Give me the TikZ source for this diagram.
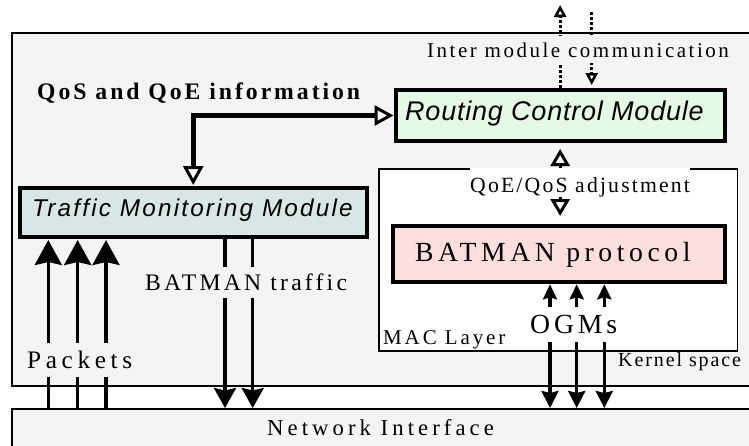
\documentclass[tikz,border=0pt]{standalone}
\usepackage{fontspec}
\setmainfont{Liberation Serif}
\newfontfamily\sansfam{Liberation Sans}
\usetikzlibrary{arrows.meta}
\definecolor{kgray}{HTML}{F4F4F4}
\definecolor{tmmcol}{HTML}{D8E6E6}
\definecolor{rcmcol}{HTML}{E4FAE4}
\definecolor{batcol}{HTML}{FDDEDE}
\newcommand\sertext[3]{\fontsize{#1}{#1}\selectfont\addfontfeature{LetterSpace=#2}#3}
\newcommand\santext[3]{\sansfam\itshape\fontsize{#1}{#1}\selectfont\addfontfeature{LetterSpace=#2}#3}
\tikzset{
  thinbox/.style={draw=black, line width=1.5pt, inner sep=0pt, anchor=north west},
  modbox/.style={draw=black, line width=4.3pt, inner sep=0pt, anchor=north west},
  txt/.style={inner sep=0pt, anchor=base west},
  oarr/.tip={Triangle[fill=white,line width=3pt,length=19pt,width=20pt]},
  marr/.tip={Triangle[fill=white,line width=3pt,length=17pt,width=19pt]},
  sarr/.tip={Triangle[fill=white,line width=2.5pt,length=12pt,width=12pt]},
  pkttip/.tip={Stealth[length=25pt,width=27pt,inset=3pt]},
  trftip/.tip={Stealth[length=20pt,width=22pt,inset=2.5pt]},
  ogup/.tip={Stealth[length=15pt,width=14pt,inset=2pt]},
  ogdn/.tip={Stealth[length=17pt,width=17pt,inset=2pt]},
  heavy/.style={line width=4.6pt},
  flow/.style={line width=3.3pt},
  dotline/.style={line width=3pt, dash pattern=on 3.3pt off 1.7pt}
}
\begin{document}
\begin{tikzpicture}[x=1pt,y=-1pt]
\useasboundingbox (0,0) rectangle (749,445);
\clip (0,0) rectangle (749,445);
% containers
\node[thinbox, fill=kgray, minimum width=760pt, minimum height=353pt] (kern) at (11,32) {};
\node[thinbox, fill=kgray, minimum width=760pt, minimum height=60pt] (net) at (11,408) {};
\node[thinbox, fill=white, minimum width=358.4pt, minimum height=181.7pt] (mac) at (378.3,168.3) {};
% modules
\node[modbox, fill=rcmcol, minimum width=329pt, minimum height=50.7pt] (rcm) at (393.5,88) {};
\node[modbox, line width=4pt, fill=tmmcol, minimum width=346.5pt, minimum height=49pt] (tmm) at (18,186) {};
\node[modbox, fill=batcol, minimum width=331.5pt, minimum height=56pt] (bat) at (391,224) {};
% coordinates for free ends and line positions
\coordinate (imup) at (558,5);
\coordinate (imdn) at (591.7,12);
\coordinate (p1) at (48.3,408);
\coordinate (p2) at (77.7,408);
\coordinate (p3) at (106,408);
\coordinate (bx1) at (225,300);
\coordinate (bx2) at (252.7,300);
\coordinate (ox1) at (550,330);
\coordinate (ox2) at (576.7,330);
\coordinate (ox3) at (604.3,330);
% connectors
\draw[heavy, oarr-oarr, shorten <=1pt] (tmm.north) |- (rcm.west);
\draw[flow, marr-marr, shorten <=6pt, shorten >=8pt] (rcm.south) -- (rcm.south |- bat.north);
\draw[dotline, -sarr] (rcm.north) -- (rcm.north |- imup);
\draw[dotline, -sarr, shorten >=3pt] (imdn) -- (imdn |- rcm.north);
\foreach \p in {p1,p2,p3}
  \draw[flow, -pkttip, shorten >=1pt] (\p) -- (\p |- tmm.south);
\foreach \b in {bx1,bx2}
  \draw[flow, -trftip] (\b |- tmm.south) -- (\b |- net.north);
\foreach \o in {ox1,ox2,ox3}
  \draw[flow, ogup-ogdn] (\o |- bat.south) -- (\o |- net.north);
% texts
\node[txt] (qostxt) at (37,99) {\bfseries\sertext{23.7}{12.5}{QoS and QoE information}};
\node[txt, fill=kgray, inner ysep=6pt] (intertxt) at (427,57) {\sertext{21}{12}{Inter module communication}};
\node[txt] (rcmtxt) at (405,120) {\santext{27}{2.9}{Routing Control Module}};
\node[txt] (tmmtxt) at (32,216.7) {\santext{24.3}{9}{Traffic Monitoring Module}};
\node[txt, fill=white, inner ysep=0.5pt, text height=24pt, text depth=4pt] (adjtxt) at (470,192.7) {\sertext{21.7}{10}{QoE/QoS adjustment}};
\node[txt] (battxt) at (415,261.7) {\sertext{27.7}{16.4}{BATMAN protocol}};
\node[txt, fill=kgray, inner ysep=8pt] (pkttxt) at (27,368.3) {\sertext{25.2}{18.5}{Packets}};
\node[txt, fill=kgray, inner ysep=7pt] (trftxt) at (145,290.7) {\sertext{23.7}{13.5}{BATMAN traffic}};
\node[txt, fill=white, inner ysep=8pt] (ogmtxt) at (530,333.3) {\sertext{27.7}{14}{OGMs}};
\node[txt] (mactxt) at (383,344) {\sertext{21}{13.7}{MAC Layer}};
\node[txt] (kertxt) at (618,366.7) {\sertext{20}{9.5}{Kernel space}};
\node[txt] (nettxt) at (267,435) {\sertext{22.7}{17.9}{Network Interface}};
\end{tikzpicture}
\end{document}
